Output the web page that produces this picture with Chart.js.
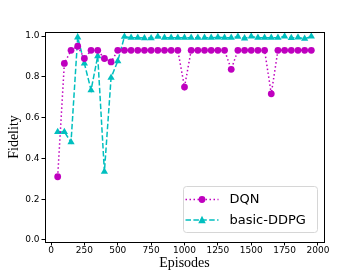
<!DOCTYPE html>
<html>
<head>
<meta charset="utf-8">
<script src="https://cdn.jsdelivr.net/npm/chart.js@4/dist/chart.umd.min.js"></script>
<style>
  html, body { margin: 0; padding: 0; background: #fff; }
  #wrap { width: 360px; height: 270px; }
</style>
</head>
<body>
<div id="wrap"><canvas id="fidelityChart"></canvas></div>
<script>
// Datos
const episodes = [50, 100, 150, 200, 250, 300, 350, 400, 450, 500,
    550, 600, 650, 700, 750, 800, 850, 900, 950, 1000,
    1050, 1100, 1150, 1200, 1250, 1300, 1350, 1400, 1450, 1500,
    1550, 1600, 1650, 1700, 1750, 1800, 1850, 1900, 1950];
const dqnFidelity = [0.31, 0.866, 0.93, 0.95, 0.89, 0.93, 0.93, 0.89, 0.873, 0.93,
    0.93, 0.93, 0.93, 0.93, 0.93, 0.93, 0.93, 0.93, 0.93, 0.75,
    0.93, 0.93, 0.93, 0.93, 0.93, 0.93, 0.837, 0.93, 0.93, 0.93,
    0.93, 0.93, 0.717, 0.93, 0.93, 0.93, 0.93, 0.93, 0.93];
const ddpgFidelity = [0.53, 0.53, 0.48, 0.994, 0.866, 0.735, 0.902, 0.335, 0.796, 0.877,
    0.997, 0.992, 0.992, 0.99, 0.99, 0.997, 0.992, 0.992, 0.992, 0.992,
    0.992, 0.992, 0.992, 0.992, 0.994, 0.992, 0.992, 0.997, 0.989, 0.998,
    0.992, 0.992, 0.992, 0.992, 0.998, 0.991, 0.993, 0.987, 0.998];
const xTicks = [0, 250, 500, 750, 1000, 1250, 1500, 1750, 2000];
const yTicks = [0.0, 0.2, 0.4, 0.6, 0.8, 1.0];

const toPoints = vals => vals.map((v, i) => ({x: episodes[i], y: v}));

// Marco completo (spines de matplotlib)
const framePlugin = {
    id: 'frame',
    afterDatasetsDraw(chart) {
        const {ctx, chartArea: a} = chart;
        ctx.save();
        ctx.strokeStyle = '#000';
        ctx.lineWidth = 1;
        ctx.strokeRect(Math.round(a.left) + 0.5, Math.round(a.top) + 0.5,
            Math.round(a.right - a.left), Math.round(a.bottom - a.top));
        ctx.restore();
    }
};

// Leyenda estilo matplotlib: línea + marcador
const legendPlugin = {
    id: 'mplLegend',
    afterDraw(chart) {
        const {ctx, chartArea: a} = chart;
        const w = 134, h = 46;
        const x0 = a.right - 6.5 - w, y0 = a.bottom - 9.5 - h;
        ctx.save();
        ctx.beginPath();
        ctx.roundRect(x0, y0, w, h, 3);
        ctx.fillStyle = 'rgba(255,255,255,0.8)';
        ctx.fill();
        ctx.strokeStyle = '#d6d6d6';
        ctx.lineWidth = 1;
        ctx.stroke();
        chart.data.datasets.forEach((ds, i) => {
            const cy = y0 + 13 + i * 20.5;
            const lx = x0 + 2, rx = x0 + 35, mx = (lx + rx) / 2;
            ctx.strokeStyle = ds.borderColor;
            ctx.lineWidth = ds.borderWidth;
            ctx.setLineDash(ds.borderDash);
            ctx.beginPath();
            ctx.moveTo(lx, cy);
            ctx.lineTo(rx, cy);
            ctx.stroke();
            ctx.setLineDash([]);
            ctx.fillStyle = ds.pointBackgroundColor;
            ctx.beginPath();
            if (ds.pointStyle === 'triangle') {
                const r = ds.pointRadius;
                ctx.moveTo(mx, cy - r);
                ctx.lineTo(mx + r * 0.9, cy + r * 0.75);
                ctx.lineTo(mx - r * 0.9, cy + r * 0.75);
                ctx.closePath();
            } else {
                ctx.arc(mx, cy, ds.pointRadius, 0, Math.PI * 2);
            }
            ctx.fill();
            ctx.fillStyle = '#000';
            ctx.font = '13px "DejaVu Sans"';
            ctx.textBaseline = 'middle';
            ctx.fillText(ds.label, x0 + 46, cy + 0.5);
        });
        ctx.restore();
    }
};

const ctx = document.getElementById('fidelityChart').getContext('2d');
new Chart(ctx, {
    type: 'line',
    data: {
        datasets: [{
            label: 'DQN',
            data: toPoints(dqnFidelity),
            borderColor: '#bf00bf',
            backgroundColor: '#bf00bf',
            pointBackgroundColor: '#bf00bf',
            pointBorderWidth: 0,
            borderWidth: 1.5,
            borderDash: [1.5, 2.5],
            pointStyle: 'circle',
            pointRadius: 3.4,
            tension: 0
        }, {
            label: 'basic-DDPG',
            data: toPoints(ddpgFidelity),
            borderColor: '#00bfbf',
            backgroundColor: '#00bfbf',
            pointBackgroundColor: '#00bfbf',
            pointBorderWidth: 0,
            borderWidth: 1.5,
            borderDash: [5.5, 2.4],
            pointStyle: 'triangle',
            pointRadius: 4.2,
            tension: 0
        }]
    },
    options: {
        responsive: true,
        maintainAspectRatio: false,
        animation: false,
        devicePixelRatio: 1,
        layout: { padding: { left: 0, right: 36, top: 32, bottom: 0 } },
        plugins: { legend: { display: false }, tooltip: { enabled: false } },
        scales: {
            x: {
                type: 'linear',
                min: -45,
                max: 2045,
                afterBuildTicks: s => { s.ticks = xTicks.map(v => ({value: v})); },
                afterFit: s => { s.height = 28; },
                grid: { drawOnChartArea: false, tickLength: 3.5, color: '#000' },
                border: { display: true, color: '#000' },
                ticks: { color: '#000', font: { family: 'DejaVu Sans', size: 9 }, padding: 0, maxRotation: 0,
                    callback: v => String(v) },
                title: { display: true, text: 'Episodes', color: '#000',
                    font: { family: 'Liberation Serif', size: 14, lineHeight: 1 }, padding: { top: 0, bottom: 0 } }
            },
            y: {
                min: -0.01,
                max: 1.02,
                afterBuildTicks: s => { s.ticks = yTicks.map(v => ({value: v})); },
                afterFit: s => { s.width = 45; },
                grid: { drawOnChartArea: false, tickLength: 3.5, color: '#000' },
                border: { display: true, color: '#000' },
                ticks: { color: '#000', font: { family: 'DejaVu Sans', size: 9 }, padding: 2,
                    callback: v => v.toFixed(1) },
                title: { display: true, text: 'Fidelity', color: '#000',
                    font: { family: 'Liberation Serif', size: 14, lineHeight: 1 }, padding: { top: 7, bottom: 0 } }
            }
        }
    },
    plugins: [framePlugin, legendPlugin]
});
</script>
</body>
</html>
